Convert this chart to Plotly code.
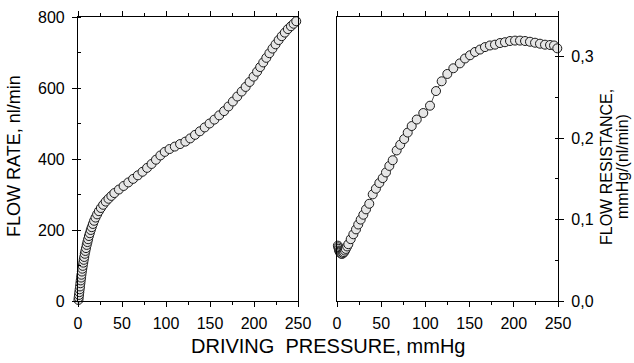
import plotly.graph_objects as go

# ---- data ----
flow_pressure = [0.5, 0.8, 1.1, 1.5, 1.9, 2.3, 2.7, 3.1, 3.5, 3.9, 4.4, 4.9, 5.4, 6.0, 6.5, 7.1,
                 7.7, 8.4, 9.1, 9.9, 10.7, 11.5, 12.4, 13.4, 14.5, 15.6, 16.9, 18.3, 19.9, 21.7,
                 23.7, 26.0, 28.6, 31.5, 34.6, 37.9, 41.3, 46.5, 51.8, 57.2, 62.6, 68.0, 73.3,
                 78.5, 83.6, 88.6, 93.6, 98.6, 104.0, 110.0, 116.0, 122.0, 127.5, 133.0, 138.5,
                 144.0, 149.5, 155.0, 160.5, 166.0, 171.0, 176.0, 181.0, 186.0, 190.5, 195.0,
                 199.5, 203.5, 207.0, 210.5, 214.0, 217.5, 221.0, 224.5, 228.0, 231.5, 235.0,
                 238.5, 242.0, 245.0, 248.0]
flow_rate = [3, 10, 17, 25, 33, 41, 50, 58, 66, 74, 83, 91, 99, 108, 116, 124,
             133, 141, 149, 158, 166, 174, 183, 191, 200, 208, 217, 226, 235, 244,
             253, 262, 271, 280, 288, 296, 304, 314, 324, 334, 344, 354, 364,
             375, 386, 398, 410, 420, 428, 435, 442, 449, 458, 468, 478,
             489, 500, 511, 523, 535, 548, 562, 576, 590, 603, 617,
             632, 646, 659, 672, 685, 698, 711, 723, 735, 746, 756,
             766, 774, 781, 788]

res_pressure = [1.0, 1.5, 2.0, 2.5, 3.0, 3.5, 4.0, 5.0, 6.0, 7.0, 8.0, 9.0, 10.0, 11.5,
                12.8, 15.5, 18.5, 21.5, 24.0, 26.8, 29.8, 32.8, 36.5, 40.4, 44.0, 47.9, 51.7,
                55.4, 59.2, 63.0, 67.5, 71.5, 76.0, 80.0, 84.5, 90.2, 97.6, 105.2, 112.0, 118.4,
                124.8, 131.6, 139.0, 144.8, 150.5, 156.1, 161.8, 167.4, 173.0, 178.7, 184.4,
                190.0, 195.7, 201.4, 207.0, 212.7, 218.3, 224.0, 229.6, 235.3, 241.0, 245.5, 249.2]
resistance = [0.068, 0.066, 0.064, 0.062, 0.061, 0.060, 0.059, 0.058, 0.058, 0.059, 0.060, 0.062, 0.064, 0.067,
              0.0698, 0.076, 0.082, 0.088, 0.094, 0.100, 0.106, 0.1126, 0.1195, 0.131, 0.138, 0.145, 0.151,
              0.158, 0.166, 0.173, 0.185, 0.192, 0.199, 0.207, 0.215, 0.223, 0.231, 0.240, 0.258, 0.270,
              0.279, 0.286, 0.292, 0.298, 0.302, 0.306, 0.309, 0.312, 0.314, 0.315, 0.317,
              0.318, 0.3195, 0.320, 0.320, 0.3195, 0.3186, 0.3174, 0.3162, 0.315, 0.3146, 0.314, 0.3105]

x_ticks = [0, 50, 100, 150, 200, 250]
flow_ticks = [0, 200, 400, 600, 800]
res_ticks = [0.0, 0.1, 0.2, 0.3]
res_tick_text = ["0,0", "0,1", "0,2", "0,3"]

W, H = 634, 363
FONT = "Liberation Sans, Arial, sans-serif"

def px(x):
    return x / W

def py(y):
    return 1 - y / H

marker = dict(size=9, color="#e6e6e6", line=dict(color="#1a1a1a", width=1))

fig = go.Figure()
fig.add_trace(go.Scatter(x=flow_pressure, y=flow_rate, mode="lines+markers",
                         line=dict(color="#222", width=0.8), marker=marker,
                         xaxis="x", yaxis="y", cliponaxis=False, showlegend=False))
fig.add_trace(go.Scatter(x=res_pressure, y=resistance, mode="lines+markers",
                         line=dict(color="#222", width=0.8), marker=marker,
                         xaxis="x2", yaxis="y2", cliponaxis=False, showlegend=False))

axis_common = dict(showline=True, linecolor="black", linewidth=1.2, showgrid=False, zeroline=False,
                   ticks="outside", ticklen=5, tickwidth=1.2, tickcolor="black", automargin=False,
                   tickfont=dict(family=FONT, size=16, color="black"))
minor_x = dict(dtick=25, ticks="outside", ticklen=3, tickcolor="black", tickwidth=1)

ydom = [py(301), py(17)]
fig.update_layout(
    width=W, height=H, margin=dict(l=0, r=0, t=0, b=0),
    paper_bgcolor="white", plot_bgcolor="white",
    xaxis=dict(domain=[px(78), px(298)], range=[0, 250], tickvals=x_ticks, mirror="ticks",
               anchor="y", minor=minor_x, ticklabelstandoff=3, **axis_common),
    yaxis=dict(domain=ydom, range=[0, 800], tickvals=flow_ticks, mirror=True, anchor="x",
               ticklabelstandoff=4,
               minor=dict(dtick=100, ticks="inside", ticklen=3, tickcolor="black"), **axis_common),
    xaxis2=dict(domain=[px(337), px(558)], range=[0, 250], tickvals=x_ticks, mirror="ticks",
                anchor="y2", minor=minor_x, ticklabelstandoff=3, **axis_common),
    yaxis2=dict(domain=ydom, range=[0, 0.349], tickvals=res_ticks, ticktext=res_tick_text,
                side="right", mirror=True, anchor="x2", ticklabelstandoff=4,
                minor=dict(dtick=0.05, ticks="inside", ticklen=3, tickcolor="black"), **axis_common),
)

annotations = [
    dict(text="FLOW RATE, nl/min", x=px(14), y=py(156), textangle=-90, font_size=18),
    dict(text="DRIVING\u00a0 PRESSURE, mmHg", x=px(328), y=py(346), font_size=20),
    dict(text="FLOW RESISTANCE,", x=px(606), y=py(167), textangle=-90, font_size=16),
    dict(text="mmHg/(nl/min)", x=px(622), y=py(167), textangle=-90, font_size=16),
]
for a in annotations:
    fig.add_annotation(xref="paper", yref="paper", showarrow=False, xanchor="center", yanchor="middle",
                       text=a["text"], x=a["x"], y=a["y"], textangle=a.get("textangle", 0),
                       font=dict(family=FONT, size=a["font_size"], color="black"))

fig.write_html("out.html", config={"displayModeBar": False},
               post_script="document.body.style.margin='0';document.body.style.overflow='hidden';")
